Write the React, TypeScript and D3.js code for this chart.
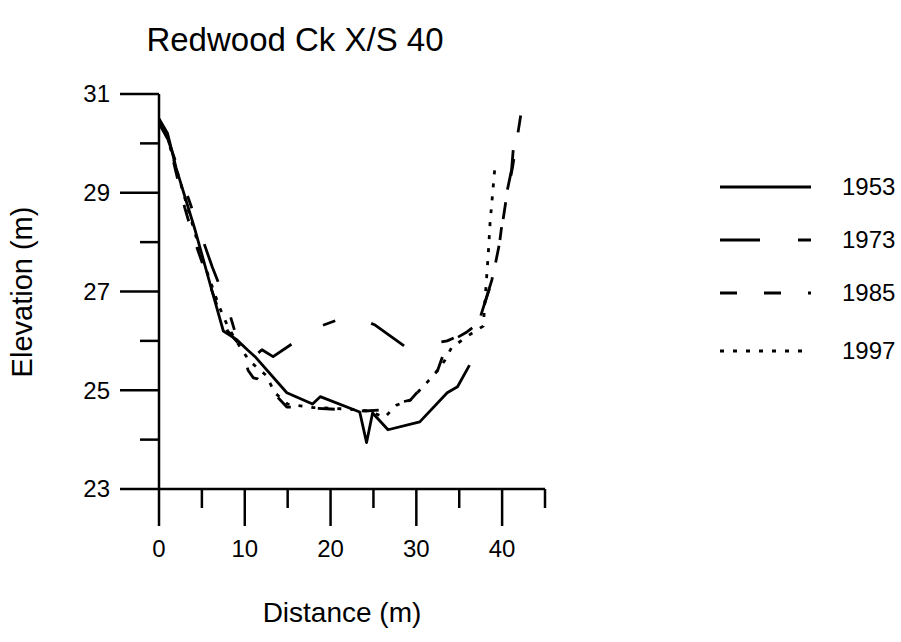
import React from "react";
import * as d3 from "d3";

const title = "Redwood Ck X/S 40";
const xLabel = "Distance (m)";
const yLabel = "Elevation (m)";
const xMajorTicks = [0, 10, 20, 30, 40];
const xMinorTicks = [5, 15, 25, 35, 45];
const yMajorTicks = [23, 25, 27, 29, 31];
const yMinorTicks = [24, 26, 28, 30];
const seriesNames = ["1953", "1973", "1985", "1997"];

const s1953: [number, number][] = [
  [0, 30.5], [1, 30.2], [2, 29.5], [4.2, 28.25], [6.2, 27.0], [7.5, 26.2],
  [9.1, 26.02], [10.3, 25.82], [11.2, 25.68], [14.9, 24.95], [17.9, 24.72],
  [18.8, 24.87], [23.4, 24.56], [24.2, 23.94], [24.9, 24.54], [26.7, 24.2],
  [30.4, 24.36], [33.6, 24.95], [34.8, 25.07], [36.2, 25.51],
];
const s1973: [number, number][] = [
  [0, 30.4], [1, 30.1], [2, 29.6], [4, 28.6], [6.2, 27.5], [7.8, 26.8],
  [9, 26.1], [10, 25.9], [11.2, 25.7], [12, 25.82], [13.3, 25.68],
  [16.7, 26.08], [17, 26.18], [20.9, 26.43], [22.8, 26.5], [25.2, 26.32],
  [28.7, 25.88], [29.3, 25.88], [33.6, 26.0], [35.9, 26.18], [37.1, 26.28],
  [38.8, 27.23], [39.7, 27.98], [40.3, 28.8], [41.1, 29.46], [41.5, 30.3],
];
const s1985: [number, number][] = [
  [0, 30.45], [1, 30.15], [2, 29.4], [3, 28.7], [4, 28.1], [5, 27.6],
  [6, 27.1], [7, 26.6], [8, 26.2], [9.5, 25.9], [10.4, 25.4], [11, 25.25],
  [11.5, 25.23], [13.6, 24.9], [14.9, 24.66], [17, 24.65], [20, 24.62],
  [24, 24.58], [26, 24.6], [27.7, 24.74], [29.3, 24.8], [31.2, 25.17],
  [32.5, 25.41], [33.6, 25.95], [35.9, 26.18], [37.2, 26.35], [38.8, 27.2],
  [39.7, 27.98], [40.5, 28.9], [41.2, 29.5], [42.2, 30.6],
];
const s1997: [number, number][] = [
  [0, 30.4], [1, 30.1], [2, 29.5], [3, 28.9], [4, 28.3], [5, 27.7],
  [6, 27.2], [7, 26.7], [8, 26.3], [9, 26.0], [10.5, 25.6], [12.5, 25.3],
  [13.5, 24.95], [15, 24.72], [18, 24.65], [22, 24.62], [24.5, 24.58],
  [26.3, 24.45], [27.7, 24.7], [29.3, 24.8], [31.2, 25.15], [32.5, 25.4],
  [33.3, 25.6], [34.1, 25.86], [36, 26.1], [37.8, 26.3], [38.0, 26.8],
  [38.2, 27.3], [38.4, 27.8], [38.6, 28.4], [38.9, 29.0], [39.2, 29.6],
];
const seriesData = [s1953, s1973, s1985, s1997];

const dashes = ["none", "40 38 13 38", "17 27", "4 9"];
const font = "'Liberation Sans', Arial, sans-serif";

export default function App() {
  const x = d3.scaleLinear().domain([0, 45]).range([159, 545]);
  const y = d3.scaleLinear().domain([23, 31]).range([489, 94]);
  const line = d3
    .line<[number, number]>()
    .x((d) => x(d[0]))
    .y((d) => y(d[1]));

  const legendY = [187, 240, 293, 351];

  return (
    <svg
      width={901}
      height={642}
      style={{ position: "absolute", left: 0, top: 0, background: "#fff" }}
      fontFamily={font}
    >
      <rect x={0} y={0} width={901} height={642} fill="#fff" />
      <text x={295} y={51} fontSize={33} textAnchor="middle" fill="#000">
        {title}
      </text>

      {/* y axis */}
      <line x1={x(0)} x2={x(0)} y1={y(31)} y2={y(23)} stroke="#000" strokeWidth={2.5} />
      {yMajorTicks.map((t) => (
        <g key={"ym" + t}>
          <line x1={120} x2={x(0)} y1={y(t)} y2={y(t)} stroke="#000" strokeWidth={2.5} />
          <text x={110} y={y(t)} dy="0.35em" fontSize={24} textAnchor="end">
            {t}
          </text>
        </g>
      ))}
      {yMinorTicks.map((t) => (
        <line key={"yn" + t} x1={140} x2={x(0)} y1={y(t)} y2={y(t)} stroke="#000" strokeWidth={2.5} />
      ))}

      {/* x axis */}
      <line x1={x(0)} x2={x(45)} y1={y(23)} y2={y(23)} stroke="#000" strokeWidth={2.5} />
      {xMajorTicks.map((t) => (
        <g key={"xm" + t}>
          <line x1={x(t)} x2={x(t)} y1={y(23)} y2={526} stroke="#000" strokeWidth={2.5} />
          <text x={x(t)} y={549} dy="0.35em" fontSize={24} textAnchor="middle">
            {t}
          </text>
        </g>
      ))}
      {xMinorTicks.map((t) => (
        <line key={"xn" + t} x1={x(t)} x2={x(t)} y1={y(23)} y2={508} stroke="#000" strokeWidth={2.5} />
      ))}

      <text x={342} y={612} dy="0.35em" fontSize={28} textAnchor="middle">
        {xLabel}
      </text>
      <text
        transform={`translate(22,292) rotate(-90)`}
        dy="0.35em"
        fontSize={29}
        textAnchor="middle"
      >
        {yLabel}
      </text>

      {seriesData.map((s, i) => (
        <path
          key={seriesNames[i]}
          d={line(s) || ""}
          fill="none"
          stroke="#000"
          strokeWidth={2.8}
          strokeDasharray={dashes[i]}
          strokeLinejoin="round"
        />
      ))}

      {seriesNames.map((n, i) => (
        <g key={"lg" + n}>
          <line
            x1={720}
            x2={811}
            y1={legendY[i]}
            y2={legendY[i]}
            stroke="#000"
            strokeWidth={2.8}
            strokeDasharray={dashes[i]}
          />
          <text x={842} y={legendY[i]} dy="0.35em" fontSize={24}>
            {n}
          </text>
        </g>
      ))}
    </svg>
  );
}
